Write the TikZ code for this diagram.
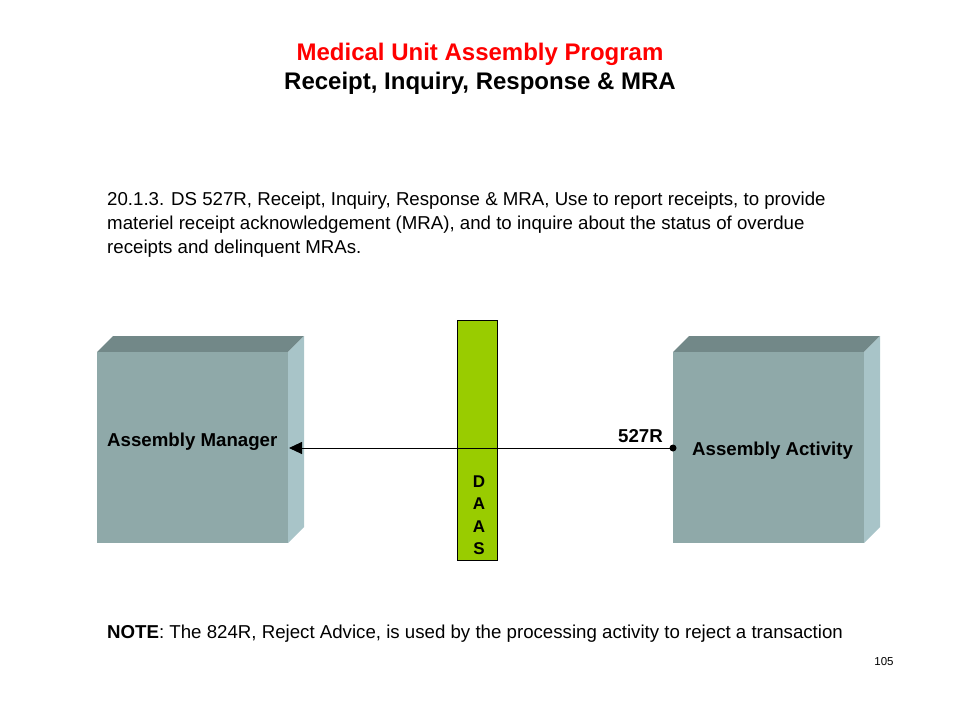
\documentclass[tikz,border=0pt]{standalone}
\usepackage{fontspec}
\setmainfont{Liberation Sans}
\usetikzlibrary{arrows.meta}
\definecolor{boxfront}{HTML}{8FA9A9}
\definecolor{boxtop}{HTML}{728888}
\definecolor{boxside}{HTML}{A8C4C8}
\definecolor{daasgreen}{HTML}{99CC00}
\definecolor{titlered}{HTML}{FF0000}
\tikzset{
  x=1pt, y=-1pt,
  txt/.style={inner sep=0pt, anchor=west, font=\fontsize{18.67}{24}\selectfont},
  lbl/.style={inner sep=0pt, font=\fontsize{18.67}{22}\selectfont\bfseries},
  ttl/.style={inner sep=0pt, font=\fontsize{24}{28}\selectfont\bfseries},
  front/.style={fill=boxfront, draw=none},
  topf/.style={fill=boxtop, draw=none},
  sidef/.style={fill=boxside, draw=none},
}
\begin{document}
\begin{tikzpicture}
\useasboundingbox (0,0) rectangle (960,720);
% titles
\node[ttl, text=titlered] (t1) at (480,54) {Medical Unit Assembly Program};
\node[ttl] (t2) at (480,83) {Receipt, Inquiry, Response \& MRA};
% body text
\node[txt] (b1) at (107,201) {20.1.3. DS 527R, Receipt, Inquiry, Response \& MRA, Use to report receipts, to provide};
\node[txt] (b2) at (107,225) {materiel receipt acknowledgement (MRA), and to inquire about the status of overdue};
\node[txt] (b3) at (107,249) {receipts and delinquent MRAs.};
% left box
\fill[topf] (97,352) -- (113,336) -- (304,336) -- (288,352) -- cycle;
\fill[sidef] (288,352) -- (304,336) -- (304,527) -- (288,543) -- cycle;
\node[front, minimum width=191, minimum height=191, inner sep=0pt, anchor=north west] (mgr) at (97,352) {};
% right box
\fill[topf] (673,352) -- (689,336) -- (880,336) -- (864,352) -- cycle;
\fill[sidef] (864,352) -- (880,336) -- (880,527) -- (864,543) -- cycle;
\node[front, minimum width=191, minimum height=191, inner sep=0pt, anchor=north west] (act) at (673,352) {};
% DAAS bar
\node[fill=daasgreen, draw=black, line width=0.8pt, minimum width=40, minimum height=240, inner sep=0pt, anchor=north west] (daas) at (457,320) {};
\node[inner sep=0pt, align=center, font=\fontsize{17}{22.5}\selectfont\bfseries] (daastxt) at (479,515) {D\\A\\A\\S};
% labels
\node[lbl, anchor=west] (mgrlbl) at (107,442) {Assembly Manager};
\node[lbl, anchor=west] (actlbl) at (692,451) {Assembly Activity};
\coordinate (src) at (673,448);
\coordinate (dst) at (289,448);
\draw[line width=0.9pt, -{Triangle[length=13pt,width=12pt]}] (src) -- (dst);
\fill (src) circle (3.5);
\node[lbl, anchor=south east] (r527) at (663,443) {527R};
% note
\node[txt] (note) at (107,634) {\textbf{NOTE}: The 824R, Reject Advice, is used by the processing activity to reject a transaction};
\node[inner sep=0pt, font=\fontsize{11.5}{13}\selectfont] (pg) at (884,662) {105};
\end{tikzpicture}
\end{document}
